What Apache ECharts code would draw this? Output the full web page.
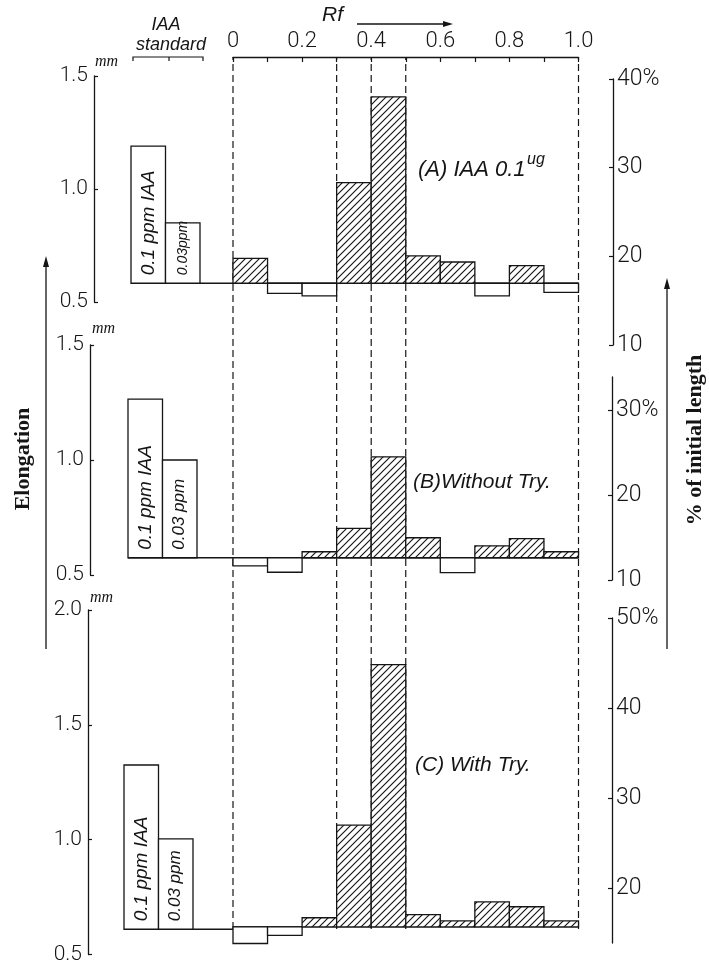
<!DOCTYPE html>
<html>
<head>
<meta charset="utf-8">
<script src="https://cdn.jsdelivr.net/npm/echarts@6/dist/echarts.min.js"></script>
<style>
  html, body { margin: 0; padding: 0; background: #fff; }
  #chart { width: 709px; height: 965px; }
</style>
</head>
<body>
<div id="chart"></div>
<script>
// ---- Chromatogram zones (Rf) ----
const rfBinStart = [0, 0.1, 0.2, 0.3, 0.4, 0.5, 0.6, 0.7, 0.8, 0.9];
const rfBinWidth = 0.1;
const rfLabelTicks = [0, 0.2, 0.4, 0.6, 0.8, 1.0];
const rfMinorTicks = [0, 0.1, 0.2, 0.3, 0.4, 0.5, 0.6, 0.7, 0.8, 0.9, 1.0];
const rfGuides = [0, 0.3, 0.4, 0.5, 1.0];

// ---- (A) IAA 0.1 ug : elongation (mm) per Rf zone ----
const controlA = 0.583;
const elongA = [0.693, 0.538, 0.527, 1.028, 1.408, 0.704, 0.677, 0.527, 0.661, 0.543];
const standardA = [1.19, 0.85];
const standardLabelsA = ['0.1 ppm IAA', '0.03ppm'];
const mmTicksA = [0.5, 1.0, 1.5];
const pctTicksA = [10, 20, 30, 40];

// ---- (B) Without Try. ----
const controlB = 0.575;
const elongB = [0.540, 0.512, 0.601, 0.703, 1.014, 0.662, 0.510, 0.627, 0.658, 0.601];
const standardB = [1.265, 1.0];
const standardLabelsB = ['0.1 ppm IAA', '0.03 ppm'];
const mmTicksB = [0.5, 1.0, 1.5];
const pctTicksB = [10, 20, 30];

// ---- (C) With Try. ----
const controlC = 0.62;
const elongC = [0.548, 0.583, 0.660, 1.063, 1.762, 0.674, 0.646, 0.729, 0.708, 0.646];
const standardC = [1.33, 1.011];
const standardLabelsC = ['0.1 ppm IAA', '0.03 ppm'];
const mmTicksC = [0.5, 1.0, 1.5, 2.0];
const pctTicksC = [20, 30, 40, 50];

// ---- layout (pixels) and axis ranges ----
const RF_LEFT = 233, RF_WIDTH = 345.5;
const TOP_AXIS_Y = 57, GUIDE_BOTTOM = 929;
const panelLayout = [
  { top: 76,  height: 226, mmMin: 0.5, mmMax: 1.5, axisX: 94, stdLeft: 131, pctX: 612, pctTop: 79,  pctHeight: 266, pctMin: 10,   pctMax: 40,   pctUnitAt: 40 },
  { top: 345, height: 230, mmMin: 0.5, mmMax: 1.5, axisX: 90, stdLeft: 128, pctX: 611, pctTop: 377, pctHeight: 203, pctMin: 10,   pctMax: 33.9, pctUnitAt: 30 },
  { top: 610, height: 347, mmMin: 0.5, mmMax: 2.0, axisX: 88, stdLeft: 124, pctX: 611, pctTop: 618, pctHeight: 325, pctMin: 13.9, pctMax: 50,   pctUnitAt: 50 }
];
const STD_BAR_PX = 34.5;

const panels = [
  { control: controlA, elong: elongA, std: standardA, stdLabels: standardLabelsA, mmTicks: mmTicksA, pctTicks: pctTicksA },
  { control: controlB, elong: elongB, std: standardB, stdLabels: standardLabelsB, mmTicks: mmTicksB, pctTicks: pctTicksB },
  { control: controlC, elong: elongC, std: standardC, stdLabels: standardLabelsC, mmTicks: mmTicksC, pctTicks: pctTicksC }
];

const INK = '#151515';
const NUM_FONT = 'Roboto, "Liberation Sans", sans-serif';
const HAND_FONT = '"Liberation Sans", "DejaVu Sans", sans-serif';
const SERIF = '"Liberation Serif", "DejaVu Serif", serif';

// diagonal hatching used for zones above the control level
function makeHatch() {
  const s = 7;
  const c = document.createElement('canvas');
  c.width = s; c.height = s;
  const g = c.getContext('2d');
  g.fillStyle = '#fff';
  g.fillRect(0, 0, s, s);
  g.strokeStyle = INK;
  g.lineWidth = 1.15;
  g.beginPath();
  g.moveTo(0, s); g.lineTo(s, 0);
  g.moveTo(-1, 1); g.lineTo(1, -1);
  g.moveTo(s - 1, s + 1); g.lineTo(s + 1, s - 1);
  g.stroke();
  return c;
}
const hatch = makeHatch();

const grids = [], xAxes = [], yAxes = [], series = [];

function addGrid(g, x, y) {
  grids.push(g);
  const idx = grids.length - 1;
  xAxes.push(Object.assign({ gridIndex: idx, show: false, type: 'value' }, x));
  yAxes.push(Object.assign({ gridIndex: idx, show: false, type: 'value' }, y));
  return idx;
}

panels.forEach((p, k) => {
  const L = panelLayout[k];

  // Rf histogram grid
  const rfGrid = addGrid(
    { left: RF_LEFT, width: RF_WIDTH, top: L.top, height: L.height },
    k === 0 ? {
      show: true, position: 'top', offset: L.top - TOP_AXIS_Y, min: 0, max: 1,
      axisLine: { show: true, onZero: false, lineStyle: { color: INK, width: 1.3 } },
      axisTick: { show: true, inside: true, length: 5, lineStyle: { color: INK, width: 1.2 }, customValues: rfMinorTicks },
      axisLabel: { show: true, margin: 5, color: INK, fontSize: 22, fontFamily: NUM_FONT, fontWeight: 300,
                   customValues: rfLabelTicks, formatter: v => v === 0 ? '0' : v.toFixed(1) },
      splitLine: { show: false }
    } : { min: 0, max: 1 },
    {
      show: true, position: 'left', offset: RF_LEFT - L.axisX, min: L.mmMin, max: L.mmMax,
      axisLine: { show: true, onZero: false, lineStyle: { color: INK, width: 1.3 } },
      axisTick: { show: true, inside: true, length: 4, lineStyle: { color: INK, width: 1.2 }, customValues: p.mmTicks },
      axisLabel: { show: true, margin: 6, color: INK, fontSize: 21, fontFamily: NUM_FONT, fontWeight: 300,
                   customValues: p.mmTicks, formatter: v => v.toFixed(1) },
      splitLine: { show: false }
    }
  );

  // control level across the Rf range
  series.push({
    type: 'line', xAxisIndex: rfGrid, yAxisIndex: rfGrid, z: 2, silent: true,
    symbol: 'none', data: [[0, p.control], [1, p.control]],
    lineStyle: { color: INK, width: 1.3 }
  });

  // zone bars drawn from the control level
  series.push({
    type: 'custom', xAxisIndex: rfGrid, yAxisIndex: rfGrid, z: 3, silent: true,
    data: rfBinStart.map((r, i) => [r, p.elong[i]]),
    renderItem: (params, api) => {
      const x0 = api.value(0), v = api.value(1);
      const a = api.coord([x0, p.control]);
      const b = api.coord([x0 + rfBinWidth, v]);
      return {
        type: 'rect',
        shape: { x: a[0], y: Math.min(a[1], b[1]), width: b[0] - a[0], height: Math.abs(b[1] - a[1]) },
        style: { fill: v > p.control ? { image: hatch, repeat: 'repeat' } : '#fff', stroke: INK, lineWidth: 1.3 }
      };
    }
  });

  // IAA standard bars
  const stdWidth = RF_LEFT - L.stdLeft;
  const stdMax = stdWidth / STD_BAR_PX;
  const stdGrid = addGrid(
    { left: L.stdLeft, width: stdWidth, top: L.top, height: L.height },
    { min: 0, max: stdMax },
    { min: L.mmMin, max: L.mmMax }
  );
  series.push({
    type: 'line', xAxisIndex: stdGrid, yAxisIndex: stdGrid, z: 2, silent: true,
    symbol: 'none', data: [[0, p.control], [stdMax, p.control]],
    lineStyle: { color: INK, width: 1.3 }
  });
  series.push({
    type: 'custom', xAxisIndex: stdGrid, yAxisIndex: stdGrid, z: 3, silent: true,
    data: p.std.map((v, i) => [i, v]),
    renderItem: (params, api) => {
      const i = api.value(0), v = api.value(1);
      const a = api.coord([i, p.control]);
      const b = api.coord([i + 1, v]);
      return {
        type: 'group',
        children: [
          { type: 'rect', shape: { x: a[0], y: b[1], width: b[0] - a[0], height: a[1] - b[1] },
            style: { fill: '#fff', stroke: INK, lineWidth: 1.3 } },
          { type: 'text', x: (a[0] + b[0]) / 2, y: a[1] - 8, rotation: Math.PI / 2,
            style: { text: p.stdLabels[i], align: 'left', verticalAlign: 'middle', fill: INK,
                     font: 'italic ' + (i === 0 ? 19 : (k === 0 ? 14 : 17)) + 'px ' + HAND_FONT } }
        ]
      };
    }
  });

  // percent-of-initial-length scale on the right
  addGrid(
    { left: L.pctX, width: 1, top: L.pctTop, height: L.pctHeight },
    { min: 0, max: 1 },
    {
      show: true, position: 'right', min: L.pctMin, max: L.pctMax,
      axisLine: { show: true, onZero: false, lineStyle: { color: INK, width: 1.3 } },
      axisTick: { show: true, inside: true, length: 4, lineStyle: { color: INK, width: 1.2 }, customValues: p.pctTicks },
      axisLabel: { show: true, margin: 4, color: INK, fontSize: 23, fontFamily: NUM_FONT, fontWeight: 300,
                   customValues: p.pctTicks,
                   formatter: v => v === L.pctUnitAt ? v + '%' : String(v) },
      splitLine: { show: false }
    }
  );
});

// dashed guide lines running through all three panels
const guideGrid = addGrid(
  { left: RF_LEFT, width: RF_WIDTH, top: TOP_AXIS_Y, height: GUIDE_BOTTOM - TOP_AXIS_Y },
  { min: 0, max: 1 },
  { min: 0, max: 1 }
);
rfGuides.forEach(r => {
  series.push({
    type: 'line', xAxisIndex: guideGrid, yAxisIndex: guideGrid, z: 1, silent: true,
    symbol: 'none', data: [[r, 0], [r, 1]],
    lineStyle: { color: INK, width: 1.2, type: [7, 4] }
  });
});

const txt = (x, y, text, font, extra) => ({
  type: 'text', x, y, silent: true,
  style: Object.assign({ text, fill: INK, font, align: 'left', verticalAlign: 'middle' }, extra || {})
});

const graphic = [
  // Rf heading with arrow
  txt(322, 15, 'Rf', 'italic 21px ' + HAND_FONT),
  { type: 'line', silent: true, shape: { x1: 357, y1: 24, x2: 446, y2: 24 }, style: { stroke: INK, lineWidth: 1.3 } },
  { type: 'polygon', silent: true, shape: { points: [[453, 24], [443, 21], [443, 27]] }, style: { fill: INK } },
  // IAA standard heading with bracket
  txt(166, 25, 'IAA', 'italic 18px ' + HAND_FONT, { align: 'center' }),
  txt(171, 45, 'standard', 'italic 18px ' + HAND_FONT, { align: 'center' }),
  { type: 'polyline', silent: true, shape: { points: [[133, 61], [133, 57], [203, 57], [203, 61]] }, style: { stroke: INK, lineWidth: 1.2, fill: null } },
  { type: 'line', silent: true, shape: { x1: 169, y1: 57, x2: 169, y2: 61 }, style: { stroke: INK, lineWidth: 1.2 } },
  // unit marks
  txt(95, 62, 'mm', 'italic 16px ' + SERIF),
  txt(92, 329, 'mm', 'italic 16px ' + SERIF),
  txt(90, 598, 'mm', 'italic 16px ' + SERIF),
  // panel captions
  txt(418, 170, '(A) IAA 0.1', 'italic 22px ' + HAND_FONT),
  txt(527, 160, 'ug', 'italic 16px ' + HAND_FONT),
  txt(413, 482, '(B)Without Try.', 'italic 21px ' + HAND_FONT),
  txt(415, 765, '(C) With Try.', 'italic 21px ' + HAND_FONT),
  // left axis title with arrow
  { type: 'text', silent: true, x: 23, y: 459, rotation: Math.PI / 2,
    style: { text: 'Elongation', fill: INK, font: 'bold 22px ' + SERIF, align: 'center', verticalAlign: 'middle' } },
  { type: 'line', silent: true, shape: { x1: 46, y1: 264, x2: 46, y2: 649 }, style: { stroke: INK, lineWidth: 1.3 } },
  { type: 'polygon', silent: true, shape: { points: [[46, 256], [43, 267], [49, 267]] }, style: { fill: INK } },
  // right axis title with arrow
  { type: 'text', silent: true, x: 695, y: 440, rotation: Math.PI / 2,
    style: { text: '% of initial length', fill: INK, font: 'bold 22px ' + SERIF, align: 'center', verticalAlign: 'middle' } },
  { type: 'line', silent: true, shape: { x1: 667, y1: 286, x2: 667, y2: 649 }, style: { stroke: INK, lineWidth: 1.3 } },
  { type: 'polygon', silent: true, shape: { points: [[667, 278], [664, 289], [670, 289]] }, style: { fill: INK } }
];

const chart = echarts.init(document.getElementById('chart'), null, { renderer: 'canvas' });
chart.setOption({
  backgroundColor: '#fff',
  animation: false,
  grid: grids,
  xAxis: xAxes,
  yAxis: yAxes,
  series: series,
  graphic: graphic
});
</script>
</body>
</html>
